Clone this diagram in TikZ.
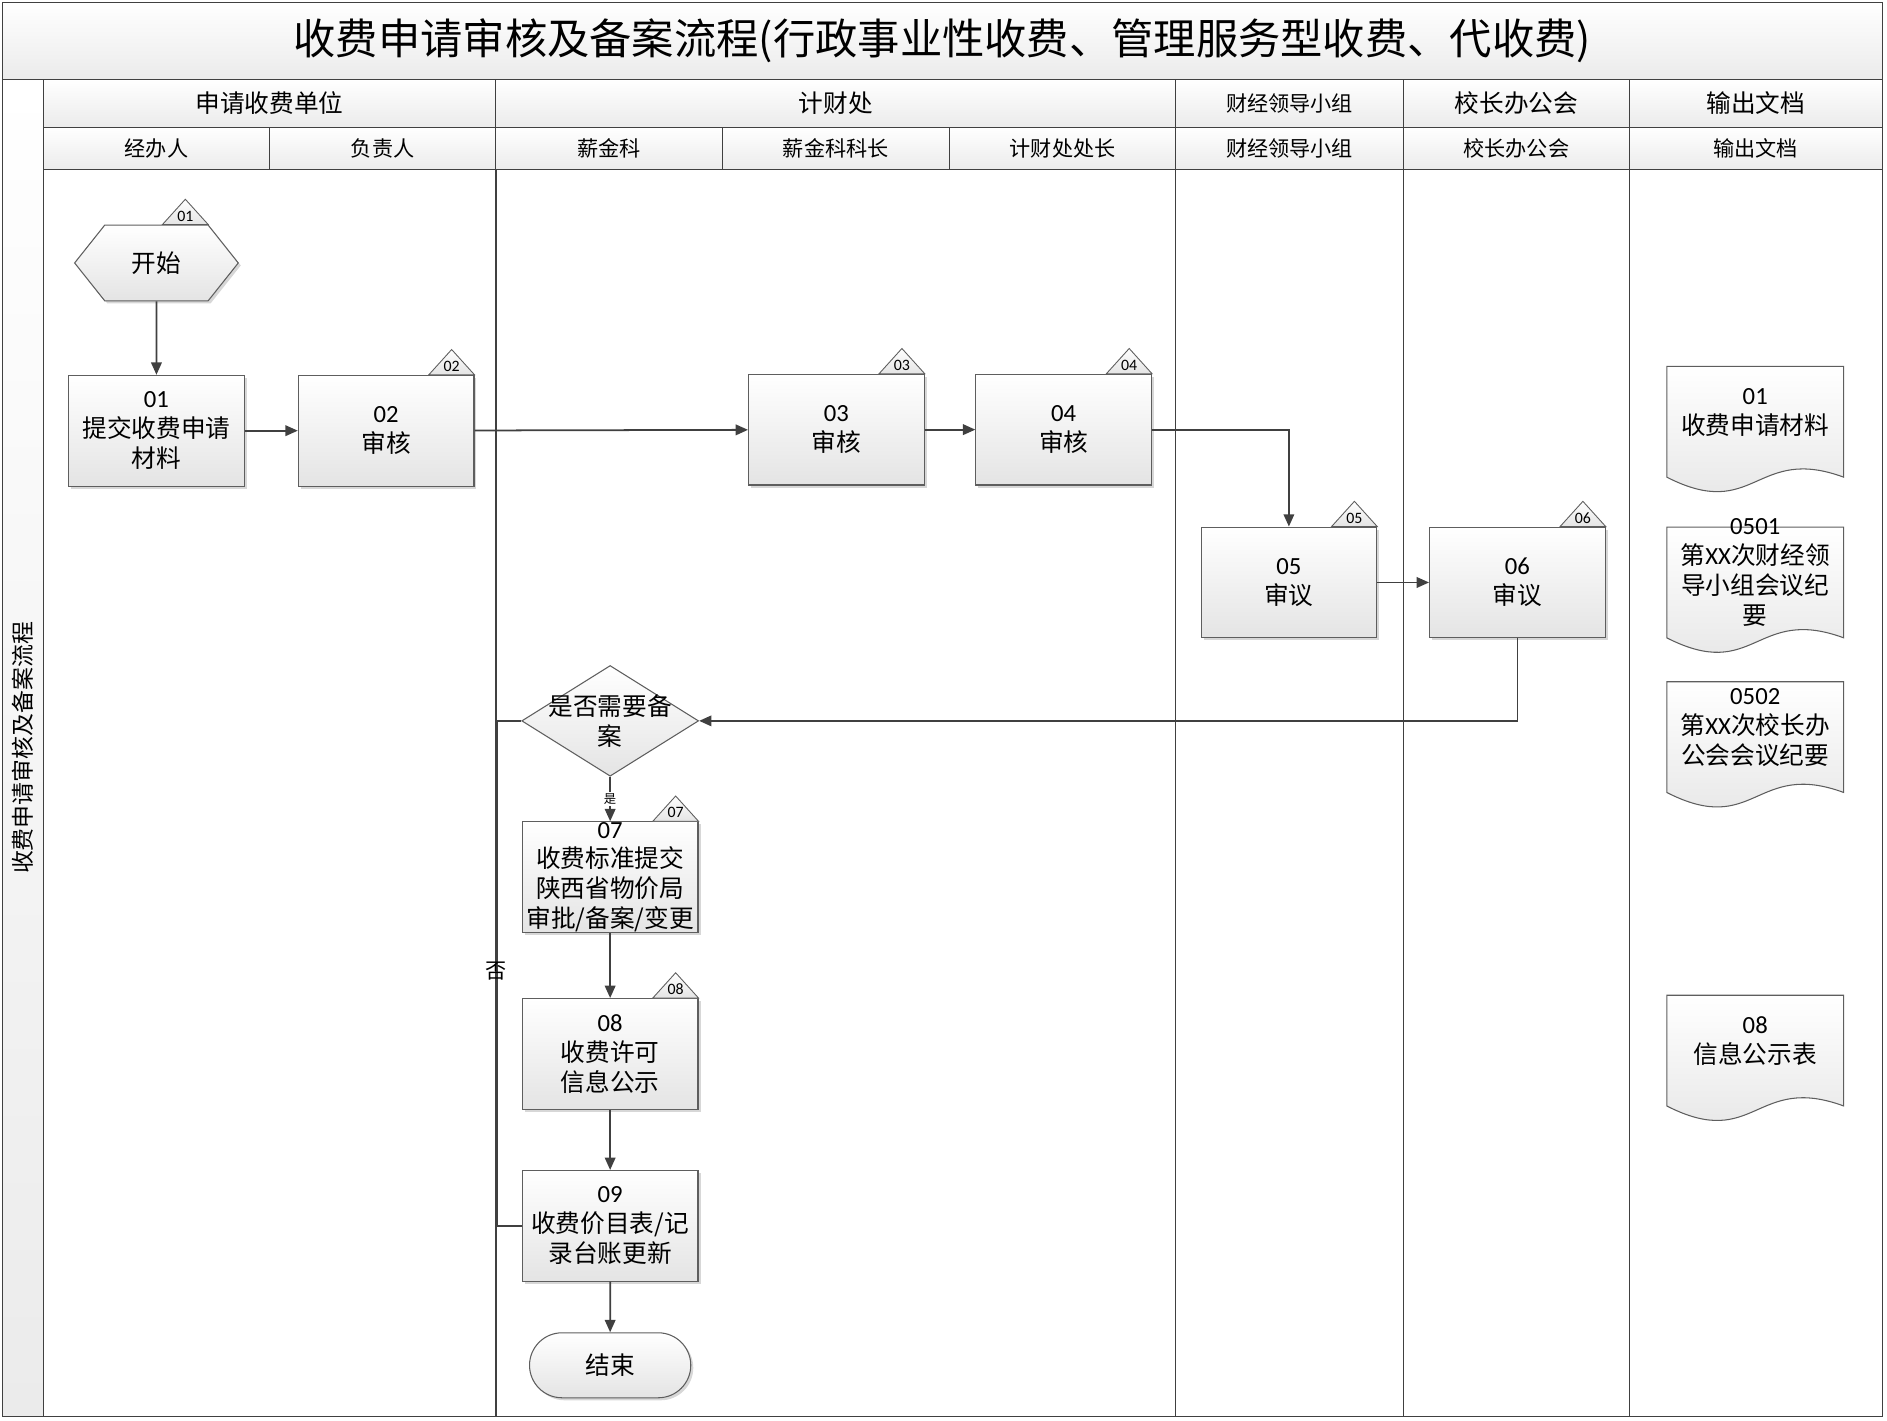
\documentclass[tikz,border=0pt]{standalone}
\usepackage{fontspec}
\setmainfont{Noto Sans CJK SC}
\newfontfamily\numfont{Carlito}
\usepackage{xcolor}
\usepackage{tikz}
\usetikzlibrary{
    arrows.meta,
    positioning,
    shapes.geometric,
    shapes.misc,
    shapes.symbols,
    shadows,
    backgrounds
}

\definecolor{lineclr}{HTML}{404040}
\definecolor{boxedge}{HTML}{5E5E5E}
\definecolor{fillbot}{HTML}{E4E4E4}
\definecolor{cellbot}{HTML}{EBEBEB}

\begin{document}
\begin{tikzpicture}[
        x=0.024cm, y=-0.024cm,
        cell/.style={
            rectangle,
            draw=lineclr,
            line width=0.6pt,
            top color=white,
            bottom color=cellbot,
            inner sep=0pt
        },
        head/.style={
            cell,
            minimum height=0.96cm,
            font=\fontsize{14}{16}\selectfont
        },
        subhead/.style={
            cell,
            minimum height=0.84cm,
            font=\fontsize{12}{14}\selectfont
        },
        block/.style={
            rectangle,
            draw=boxedge,
            line width=0.6pt,
            top color=white,
            bottom color=fillbot,
            drop shadow={shadow xshift=0.05cm, shadow yshift=-0.05cm,
                opacity=0.35, fill=black!45},
            align=center,
            inner sep=0pt,
            minimum width=3.504cm,
            minimum height=2.208cm,
            font=\fontsize{14}{17}\selectfont
        },
        startbox/.style={
            block,
            signal,
            signal to=east and west,
            signal pointer angle=103,
            minimum width=3.264cm,
            minimum height=1.512cm
        },
        stopbox/.style={
            block,
            rounded rectangle,
            minimum width=3.216cm,
            minimum height=1.296cm
        },
        decision/.style={
            diamond,
            draw=boxedge,
            line width=0.6pt,
            top color=white,
            bottom color=fillbot,
            inner sep=0pt,
            minimum width=3.528cm,
            minimum height=2.208cm
        },
        dectext/.style={
            align=center,
            inner sep=0pt,
            font=\fontsize{14}{17}\selectfont
        },
        doc/.style={
            rectangle,
            align=center,
            inner sep=0pt,
            font=\fontsize{14}{17}\selectfont
        },
        docline/.style={
            draw=boxedge,
            line width=0.6pt,
            top color=white,
            bottom color=fillbot
        },
        tagline/.style={
            draw=boxedge,
            line width=0.5pt,
            top color=white,
            bottom color=fillbot
        },
        tagnum/.style={
            inner sep=0pt,
            font=\numfont\fontsize{9}{10}\selectfont
        },
        lane/.style={
            draw=lineclr,
            line width=0.8pt
        },
        flow/.style={
            draw=lineclr,
            line width=1pt,
            -{Triangle[length=7pt,width=6pt]}
        },
        link/.style={
            draw=lineclr,
            line width=1pt
        },
        answer/.style={
            inner sep=1pt
        }
    ]

    \useasboundingbox (0,0) rectangle (1568,1180);

    % frame and swimlanes
    \draw[lane] (2,2) rectangle (1564,1177);
    \draw[lane] (412,141) -- (412,1177);
    \draw[lane] (977,141) -- (977,1177);
    \draw[lane] (1166,141) -- (1166,1177);
    \draw[lane] (1354,141) -- (1354,1177);

    \node[cell, minimum width=37.488cm, minimum height=1.536cm,
        font=\fontsize{24}{28}\selectfont] (title) at (783,34)
        {收费申请审核及备案流程(行政事业性收费、管理服务型收费、代收费)};

    \node[cell, rotate=90, minimum width=26.664cm, minimum height=0.816cm,
        font=\fontsize{13}{15}\selectfont] (side) at (19,621.5)
        {收费申请审核及备案流程};

    \node[head, minimum width=9.024cm] (unit) at (224,86) {申请收费单位};
    \node[head, minimum width=13.56cm] (finance) at (694.5,86) {计财处};
    \node[head, minimum width=4.536cm, font=\fontsize{12}{14}\selectfont]
        (group) at (1071.5,86) {财经领导小组};
    \node[head, minimum width=4.512cm] (office) at (1260,86) {校长办公会};
    \node[head, minimum width=5.04cm] (output) at (1459,86) {输出文档};

    \node[subhead, minimum width=4.512cm] (clerk) at (130,123.5) {经办人};
    \node[subhead, minimum width=4.512cm] (leader) at (318,123.5) {负责人};
    \node[subhead, minimum width=4.512cm] (salary) at (506,123.5) {薪金科};
    \node[subhead, minimum width=4.536cm] (salaryhead) at (694.5,123.5) {薪金科科长};
    \node[subhead, minimum width=4.512cm] (director) at (883,123.5) {计财处处长};
    \node[subhead, minimum width=4.536cm] (groupsub) at (1071.5,123.5) {财经领导小组};
    \node[subhead, minimum width=4.512cm] (officesub) at (1260,123.5) {校长办公会};
    \node[subhead, minimum width=5.04cm] (outputsub) at (1459,123.5) {输出文档};

    % process steps
    \node[startbox] (start) at (130,218.5) {开始};

    \node[block, below=1.464cm of start] (b01)
        {{\numfont 01}\\提交收费申请\\材料};

    \node[block, right=1.056cm of b01] (b02)
        {{\numfont 02}\\审核};

    \node[block] (b03) at (695,357)
        {{\numfont 03}\\审核};

    \node[block, right=1.008cm of b03] (b04)
        {{\numfont 04}\\审核};

    \node[block] (b05) at (1071,484)
        {{\numfont 05}\\审议};

    \node[block, right=1.032cm of b05] (b06)
        {{\numfont 06}\\审议};

    \node[decision, label={[dectext]center:{是否需要备\\案}}] (need)
        at (507,599) {};

    \node[block, below=0.888cm of need] (b07)
        {{\numfont 07}\\收费标准提交\\陕西省物价局\\审批/备案/变更};

    \node[block, below=1.296cm of b07] (b08)
        {{\numfont 08}\\收费许可\\信息公示};

    \node[block, below=1.2cm of b08] (b09)
        {{\numfont 09}\\收费价目表/记\\录台账更新};

    \node[stopbox, below=1.008cm of b09] (stop) {结束};

    % step tags
    \coordinate (t01) at ([xshift=1.032cm]start.north);
    \foreach \n/\p in {01/t01, 02/b02.north east, 03/b03.north east,
            04/b04.north east, 05/b05.north east, 06/b06.north east,
            07/b07.north east, 08/b08.north east}{
        \draw[tagline] (\p) -- ++(-0.456cm,0.504cm) -- ++(-0.456cm,-0.504cm) -- cycle;
        \node[tagnum] (tag\n) at ([xshift=-0.456cm,yshift=0.17cm]\p) {\n};
    }

    % output documents
    \node[doc] (d01) at (1458.5,342.5)
        {{\numfont 01}\\收费申请材料};
    \node[doc] (d0501) at (1458.5,476)
        {{\numfont 0501}\\第{\numfont XX}次财经领\\导小组会议纪\\要};
    \node[doc] (d0502) at (1458.5,604.5)
        {{\numfont 0502}\\第{\numfont XX}次校长办\\公会会议纪要};
    \node[doc] (d08) at (1458.5,865)
        {{\numfont 08}\\信息公示表};

    \begin{scope}[on background layer]
        \foreach \d in {d01, d0501, d0502, d08}{
            \draw[docline] ([xshift=-1.764cm,yshift=0.912cm]\d.center)
                -- ([xshift=1.764cm,yshift=0.912cm]\d.center)
                -- ([xshift=1.764cm,yshift=-1.296cm]\d.center)
                .. controls ([xshift=0cm,yshift=-0.646cm]\d.center)
                and ([xshift=0cm,yshift=-2.196cm]\d.center)
                .. ([xshift=-1.764cm,yshift=-1.296cm]\d.center)
                -- cycle;
        }
    \end{scope}

    % connectors
    \draw[flow] (start) -- (b01);
    \draw[flow] (b01) -- (b02);
    \draw[flow] (b02) -- (b03);
    \draw[flow] (b03) -- (b04);
    \draw[flow] (b04.east) -| (b05.north);
    \draw[flow] (b05) -- (b06);
    \draw[flow] (b06.south) |- (need.east);
    \draw[flow] (need.south) -- node[answer, fill=white, font=\fontsize{7}{8}\selectfont] {是} (b07.north);

    \coordinate (nobend) at (413,599);
    \draw[link] (need.west) -- (nobend) |- (b09.west);
    \node[answer, font=\fontsize{12}{14}\selectfont] (nolabel) at (412,807) {否};

    \draw[flow] (b07) -- (b08);
    \draw[flow] (b08) -- (b09);
    \draw[flow] (b09) -- (stop);

\end{tikzpicture}
\end{document}
